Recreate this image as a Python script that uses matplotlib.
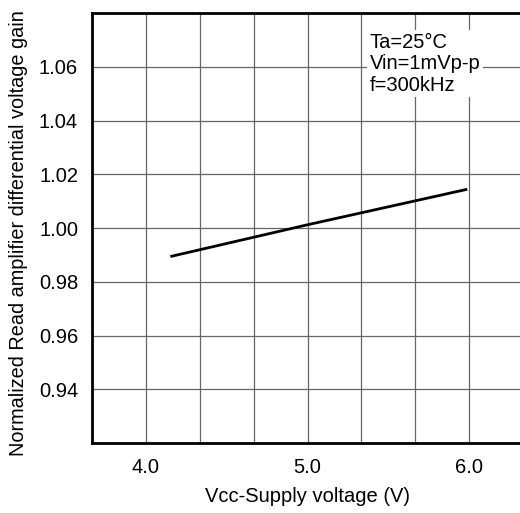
import matplotlib
matplotlib.use("Agg")
import matplotlib.pyplot as plt
import numpy as np

plt.rcParams["font.family"] = ["Liberation Sans", "DejaVu Sans"]

# curve
vcc = [4.16, 5.0, 5.98]
gain = [0.9895, 1.0012, 1.0143]

x_ticks = [4.0, 5.0, 6.0]
x_tick_labels = ["4.0", "5.0", "6.0"]
y_ticks = [0.94, 0.96, 0.98, 1.00, 1.02, 1.04, 1.06]
y_tick_labels = ["0.94", "0.96", "0.98", "1.00", "1.02", "1.04", "1.06"]
x_grid = [4.0 + i / 3 for i in range(-1, 8)]
y_grid = [0.92 + 0.02 * i for i in range(9)]

conditions = "Ta=25°C\nVin=1mVp-p\nf=300kHz"

W, H = 520, 513
fig = plt.figure(figsize=(W / 100, H / 100), dpi=100)
left, right, top, bottom = 92, 523, 13, 443
ax = fig.add_axes([left / W, 1 - bottom / H, (right - left) / W, (bottom - top) / H])

ax.set_xlim(4.0 - 1 / 3, 6.0 + 1 / 3)
ax.set_ylim(0.92, 1.08)

for xv in x_grid:
    ax.axvline(xv, color="#666666", lw=0.9, zorder=1)
for yv in y_grid:
    ax.axhline(yv, color="#666666", lw=0.9, zorder=1)

ax.plot(vcc, gain, color="black", lw=2.0, zorder=3)

ax.text(5.385, 1.0725, conditions, fontsize=14.5, va="top", ha="left",
        linespacing=1.15, zorder=4,
        bbox=dict(facecolor="white", edgecolor="none", pad=2))

ax.set_xticks(x_ticks)
ax.set_xticklabels(x_tick_labels, fontsize=14.5)
ax.set_yticks(y_ticks)
ax.set_yticklabels(y_tick_labels, fontsize=14.5)
ax.tick_params(length=0)
ax.tick_params(axis="x", pad=11)
ax.tick_params(axis="y", pad=10)

for side in ["left", "bottom", "top"]:
    ax.spines[side].set_linewidth(2)
ax.spines["right"].set_visible(False)

ax.set_xlabel("Vcc-Supply voltage (V)", fontsize=14.5, labelpad=7)
ax.set_ylabel("Normalized Read amplifier differential voltage gain", fontsize=14.3)
ax.yaxis.set_label_coords(-64 / (right - left), 0.488)

fig.savefig("out.png", dpi=100)
